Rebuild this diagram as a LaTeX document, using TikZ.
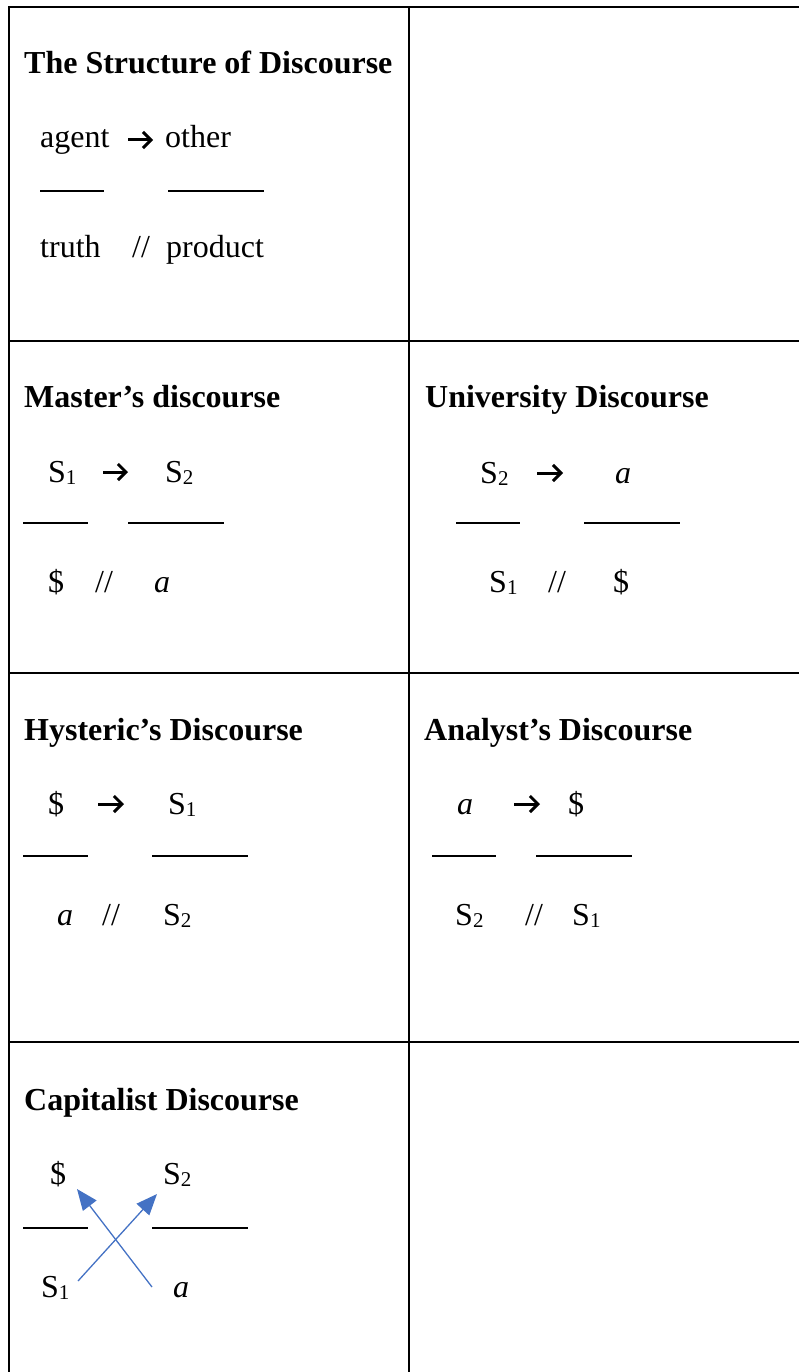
\documentclass[tikz,border=0pt]{standalone}
\usepackage{fontspec}
\setmainfont{Liberation Serif}
\usetikzlibrary{arrows.meta}
\newcommand\sbx[1]{\raisebox{-2pt}{\fontsize{21}{24}\selectfont #1}}
\definecolor{arrowblue}{HTML}{4472C4}
\begin{document}
\begin{tikzpicture}[x=1pt,y=-1pt,
  hd/.style={font=\bfseries\fontsize{32}{38}\selectfont, anchor=base west, inner sep=0pt},
  tx/.style={font=\fontsize{32}{38}\selectfont, anchor=base west, inner sep=0pt},
  gridline/.style={line width=2pt, line cap=rect},
  bar/.style={line width=1.3pt},
  glypharrow/.style={line width=3pt, -{Straight Barb[length=8pt,width=16pt,line width=3pt]}},
  capar/.style={arrowblue, line width=1.3pt, -{Triangle[length=21pt,width=17pt]}}]
\useasboundingbox (0,0) rectangle (798,1372);
% grid
\draw[gridline] (9,7) -- (798,7);
\draw[gridline] (9,340.5) -- (798,340.5);
\draw[gridline] (9,672.5) -- (798,672.5);
\draw[gridline] (9,1042) -- (798,1042);
\draw[gridline] (9,7) -- (9,1380);
\draw[gridline] (409,7) -- (409,1380);

% Cell 1
\node[hd] (h1) at (24,74) {The Structure of Discourse};
\node[tx] (agent) at (40,148) {agent};
\coordinate (ar1a) at (128,140); \coordinate (ar1b) at (153,140);
\draw[glypharrow] (ar1a) -- (ar1b);
\node[tx] (other) at (165,148) {other};
\coordinate (b1a) at (40,191); \coordinate (b1b) at (104,191);
\coordinate (b1c) at (168,191); \coordinate (b1d) at (264,191);
\draw[bar] (b1a) -- (b1b); \draw[bar] (b1c) -- (b1d);
\node[tx] (truth) at (40,258) {truth};
\node[tx] (sl1) at (132,258) {//};
\node[tx] (product) at (166,258) {product};

% Cell 2 Master
\node[hd] (h2) at (24,407) {Master’s discourse};
\node[tx] (m1) at (48,482) {S\sbx{1}};
\coordinate (ar2a) at (103,472); \coordinate (ar2b) at (128,472);
\draw[glypharrow] (ar2a) -- (ar2b);
\node[tx] (m2) at (165,482) {S\sbx{2}};
\coordinate (b2a) at (23,523); \coordinate (b2b) at (88,523);
\coordinate (b2c) at (128,523); \coordinate (b2d) at (224,523);
\draw[bar] (b2a) -- (b2b); \draw[bar] (b2c) -- (b2d);
\node[tx] (m3) at (48,592) {\$};
\node[tx] (sl2) at (95,592) {//};
\node[tx] (m4) at (154,592) {\itshape a};

% Cell 3 University
\node[hd] (h3) at (425,407) {University Discourse};
\node[tx] (u1) at (480,483) {S\sbx{2}};
\coordinate (ar3a) at (537,473); \coordinate (ar3b) at (563,473);
\draw[glypharrow] (ar3a) -- (ar3b);
\node[tx] (u2) at (615,483) {\itshape a};
\coordinate (b3a) at (456,523); \coordinate (b3b) at (520,523);
\coordinate (b3c) at (584,523); \coordinate (b3d) at (680,523);
\draw[bar] (b3a) -- (b3b); \draw[bar] (b3c) -- (b3d);
\node[tx] (u3) at (489,592) {S\sbx{1}};
\node[tx] (sl3) at (548,592) {//};
\node[tx] (u4) at (613,592) {\$};

% Cell 4 Hysteric
\node[hd] (h4) at (24,740) {Hysteric’s Discourse};
\node[tx] (y1) at (48,814) {\$};
\coordinate (ar4a) at (98,804); \coordinate (ar4b) at (124,804);
\draw[glypharrow] (ar4a) -- (ar4b);
\node[tx] (y2) at (168,814) {S\sbx{1}};
\coordinate (b4a) at (23,856); \coordinate (b4b) at (88,856);
\coordinate (b4c) at (152,856); \coordinate (b4d) at (248,856);
\draw[bar] (b4a) -- (b4b); \draw[bar] (b4c) -- (b4d);
\node[tx] (y3) at (57,925) {\itshape a};
\node[tx] (sl4) at (102,925) {//};
\node[tx] (y4) at (163,925) {S\sbx{2}};

% Cell 5 Analyst
\node[hd] (h5) at (424,740) {Analyst’s Discourse};
\node[tx] (n1) at (457,814) {\itshape a};
\coordinate (ar5a) at (514,804); \coordinate (ar5b) at (540,804);
\draw[glypharrow] (ar5a) -- (ar5b);
\node[tx] (n2) at (568,814) {\$};
\coordinate (b5a) at (432,856); \coordinate (b5b) at (496,856);
\coordinate (b5c) at (536,856); \coordinate (b5d) at (632,856);
\draw[bar] (b5a) -- (b5b); \draw[bar] (b5c) -- (b5d);
\node[tx] (n3) at (455,925) {S\sbx{2}};
\node[tx] (sl5) at (525,925) {//};
\node[tx] (n4) at (572,925) {S\sbx{1}};

% Cell 6 Capitalist
\node[hd] (h6) at (24,1110) {Capitalist Discourse};
\node[tx] (c1) at (50,1184) {\$};
\node[tx] (c2) at (163,1184) {S\sbx{2}};
\coordinate (b6a) at (23,1228); \coordinate (b6b) at (88,1228);
\coordinate (b6c) at (152,1228); \coordinate (b6d) at (248,1228);
\draw[bar] (b6a) -- (b6b); \draw[bar] (b6c) -- (b6d);
\node[tx] (c3) at (41,1297) {S\sbx{1}};
\node[tx] (c4) at (173,1297) {\itshape a};
\coordinate (cs1) at (78,1281); \coordinate (ce1) at (157,1194);
\coordinate (cs2) at (152,1287); \coordinate (ce2) at (77,1189);
\draw[capar] (cs1) -- (ce1);
\draw[capar] (cs2) -- (ce2);
\end{tikzpicture}
\end{document}
